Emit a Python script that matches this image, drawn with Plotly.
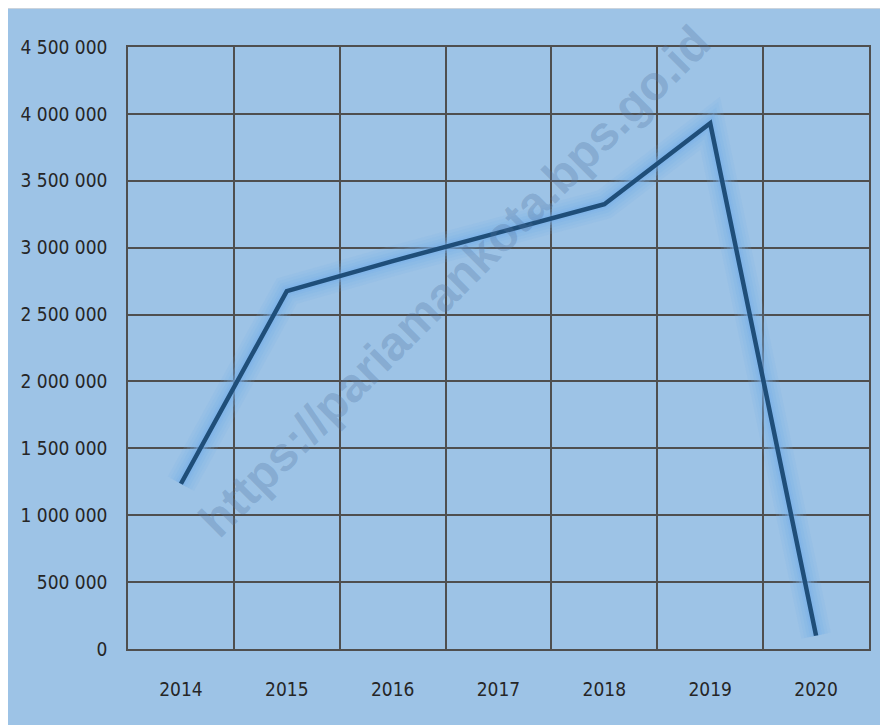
import plotly.graph_objects as go

years = ["2014", "2015", "2016", "2017", "2018", "2019", "2020"]
values = [1235000, 2675000, 2900000, 3115000, 3325000, 3930000, 100000]
y_ticks = [0, 500000, 1000000, 1500000, 2000000, 2500000, 3000000, 3500000, 4000000, 4500000]
y_labels = ["0", "500 000", "1 000 000", "1 500 000", "2 000 000", "2 500 000",
            "3 000 000", "3 500 000", "4 000 000", "4 500 000"]
watermark = "https://pariamankota.bps.go.id"

BG = "#9DC3E6"
LINE = "#1F4E79"
GRID = "#4F4F4F"
FONT = "DejaVu Sans Condensed, Liberation Sans Narrow, sans-serif"
FS = 19

fig = go.Figure()
# soft glow under the line (several translucent layers)
for w, a in [(30, 0.12), (24, 0.14), (18, 0.18), (12, 0.25), (8, 0.35)]:
    fig.add_trace(go.Scatter(x=years, y=values, mode="lines",
                             line=dict(color=f"rgba(118,176,234,{a})", width=w),
                             hoverinfo="skip", showlegend=False))
fig.add_trace(go.Scatter(x=years, y=values, mode="lines",
                         line=dict(color=LINE, width=4.5),
                         showlegend=False))

# page body adds an 8px offset; figure occupies page pixels 8..888
OFF = 8
W, H = 888 - OFF, 725 - OFF
L, R, T, B = 128 - OFF, 19, 47 - OFF, 76
pw, ph = W - L - R, H - T - B

def px_x(p):  # page pixel -> paper x
    return (p - OFF - L) / pw

def px_y(p):  # page pixel -> paper y
    return (H - B - (p - OFF)) / ph

fig.add_shape(type="rect", xref="paper", yref="paper",
              x0=px_x(OFF - 1), x1=px_x(890), y0=px_y(OFF), y1=px_y(730),
              fillcolor=BG, line=dict(color="#D9D9D9", width=1.5), layer="below")

fig.add_annotation(text=f"<b>{watermark}</b>", xref="paper", yref="paper",
                   x=px_x(454), y=px_y(281), xanchor="center", yanchor="middle",
                   textangle=-45, showarrow=False,
                   font=dict(family="Liberation Sans, Arial, sans-serif", size=48,
                             color="rgba(80,115,160,0.3)"))

fig.update_layout(
    width=W, height=H,
    margin=dict(l=L, r=R, t=T, b=B, pad=0, autoexpand=False),
    paper_bgcolor="white",
    plot_bgcolor=BG,
    font=dict(family=FONT, size=FS, color="#262626"),
    showlegend=False,
)
fig.update_xaxes(type="category", range=[-0.5, 6.5], tickson="boundaries",
                 showgrid=True, automargin=False,
                 gridcolor=GRID, gridwidth=1.5, showline=True, linecolor=GRID,
                 linewidth=2, mirror=True, ticks="", ticklabelstandoff=22,
                 tickfont=dict(family=FONT, size=FS, color="#262626"))
fig.update_yaxes(range=[0, 4500000], tickvals=y_ticks, ticktext=y_labels,
                 showgrid=True, automargin=False, gridcolor=GRID, gridwidth=2,
                 zeroline=False, showline=True, linecolor=GRID, linewidth=1.5,
                 mirror=True, ticks="", ticklabelstandoff=15,
                 tickfont=dict(family=FONT, size=FS, color="#262626"))

fig.write_html("out.html")
